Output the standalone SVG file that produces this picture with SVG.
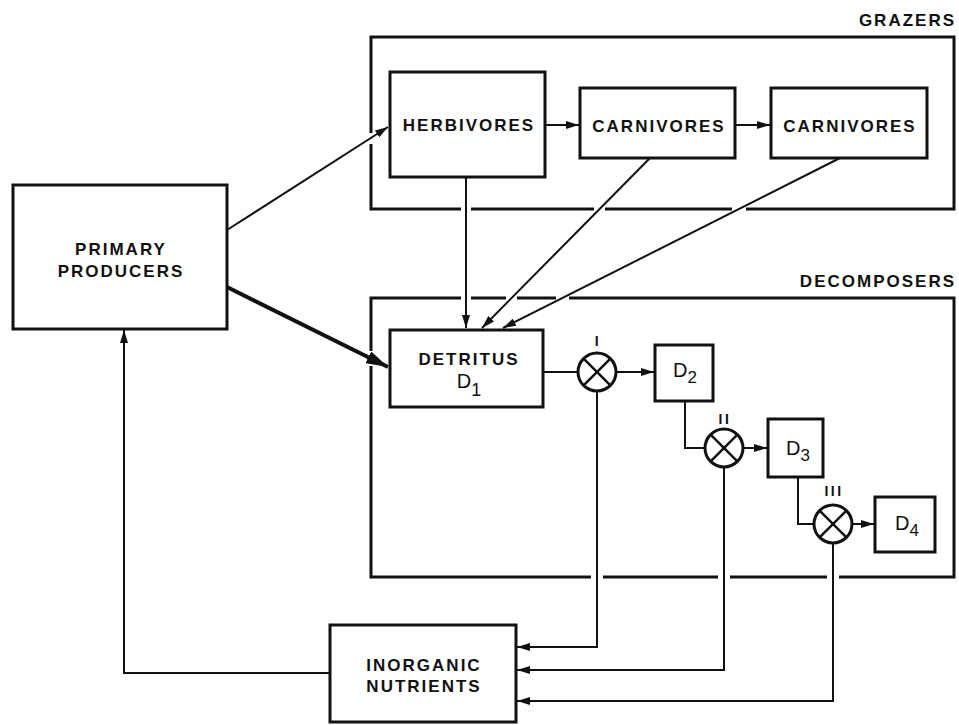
<svg xmlns="http://www.w3.org/2000/svg" width="959" height="725" viewBox="0 0 959 725">
<style>
.box{fill:none;stroke:#111;stroke-width:3}
.cont{fill:none;stroke:#111;stroke-width:3}
.lbl{font-family:"Liberation Sans",Arial,Helvetica,sans-serif;font-weight:bold;font-size:17px;letter-spacing:2px;fill:#111;text-anchor:middle}
.glbl{font-family:"Liberation Sans",Arial,Helvetica,sans-serif;font-weight:bold;font-size:17px;letter-spacing:2px;fill:#111;text-anchor:end}
.dl{font-family:"Liberation Sans",Arial,Helvetica,sans-serif;font-size:20px;fill:#111;text-anchor:middle}
.rn{font-family:"Liberation Sans",Arial,Helvetica,sans-serif;font-weight:bold;font-size:14px;letter-spacing:2.5px;fill:#111;text-anchor:middle}
.ln{fill:none;stroke:#111;stroke-width:2}
.thick{fill:none;stroke:#111;stroke-width:4}
.gap{fill:none;stroke:#fff;stroke-width:6}
.circ{fill:#fff;stroke:#111;stroke-width:3}
.x{stroke:#111;stroke-width:2.5}
</style>
<defs>
<marker id="arr" viewBox="0 0 13 8" refX="13" refY="4" markerWidth="13" markerHeight="8" markerUnits="userSpaceOnUse" orient="auto">
<path d="M0,0 L13,4 L0,8 z" fill="#111"/>
</marker>
<marker id="arrB" viewBox="0 0 22 13" refX="22" refY="6.5" markerWidth="22" markerHeight="13" markerUnits="userSpaceOnUse" orient="auto">
<path d="M0,0 L22,6.5 L0,13 z" fill="#111"/>
</marker>
</defs>
<rect width="959" height="725" fill="#fff"/>

<g id="grazers">
<rect class="cont" x="371" y="37" width="583" height="172"/>
<text class="glbl" x="956" y="26">GRAZERS</text>
</g>
<g id="decomposers">
<rect class="cont" x="371" y="298" width="583" height="279"/>
<text class="glbl" x="956" y="287">DECOMPOSERS</text>
</g>

<g id="connectors">
<g id="gaps">
<line class="gap" x1="371" y1="133" x2="371" y2="144"/>
<line class="gap" x1="371" y1="351" x2="371" y2="366"/>
<line class="gap" x1="461" y1="209" x2="471" y2="209"/>
<line class="gap" x1="461" y1="298" x2="471" y2="298"/>
<line class="gap" x1="594" y1="209" x2="605" y2="209"/>
<line class="gap" x1="506" y1="298" x2="517" y2="298"/>
<line class="gap" x1="732" y1="209" x2="746" y2="209"/>
<line class="gap" x1="556" y1="298" x2="569" y2="298"/>
<line class="gap" x1="591" y1="577" x2="603" y2="577"/>
<line class="gap" x1="718" y1="577" x2="730" y2="577"/>
<line class="gap" x1="827" y1="577" x2="839" y2="577"/>
</g>
<line class="ln" x1="227" y1="230" x2="388" y2="127" marker-end="url(#arr)"/>
<line class="thick" x1="227" y1="287" x2="388" y2="367" marker-end="url(#arrB)"/>
<line class="ln" x1="545" y1="125" x2="579" y2="125" marker-end="url(#arr)"/>
<line class="ln" x1="735" y1="125" x2="770" y2="125" marker-end="url(#arr)"/>
<line class="ln" x1="466" y1="177" x2="466" y2="328" marker-end="url(#arr)"/>
<line class="ln" x1="650" y1="158" x2="482" y2="328" marker-end="url(#arr)"/>
<line class="ln" x1="840" y1="158" x2="503" y2="328" marker-end="url(#arr)"/>
<line class="ln" x1="543" y1="372" x2="578" y2="372"/>
<line class="ln" x1="616" y1="372" x2="654" y2="372" marker-end="url(#arr)"/>
<polyline class="ln" points="685,401 685,448 705,448"/>
<line class="ln" x1="743" y1="448" x2="767" y2="448" marker-end="url(#arr)"/>
<polyline class="ln" points="798,477 798,524 814,524"/>
<line class="ln" x1="852" y1="524" x2="874" y2="524" marker-end="url(#arr)"/>
<polyline class="ln" points="597,391 597,647 517,647" marker-end="url(#arr)"/>
<polyline class="ln" points="724,467 724,670 517,670" marker-end="url(#arr)"/>
<polyline class="ln" points="833,543 833,701 517,701" marker-end="url(#arr)"/>
<polyline class="ln" points="330,673 124,673 124,330" marker-end="url(#arr)"/>
</g>

<g id="primary-producers">
<rect class="box" x="13" y="185" width="214" height="144"/>
<text class="lbl" x="121" y="255">PRIMARY</text>
<text class="lbl" x="121" y="277">PRODUCERS</text>
</g>
<g id="herbivores">
<rect class="box" x="390" y="72" width="155" height="105"/>
<text class="lbl" x="469" y="131">HERBIVORES</text>
</g>
<g id="carnivores-1">
<rect class="box" x="580" y="88" width="155" height="70"/>
<text class="lbl" x="659" y="132">CARNIVORES</text>
</g>
<g id="carnivores-2">
<rect class="box" x="771" y="88" width="156" height="70"/>
<text class="lbl" x="850" y="132">CARNIVORES</text>
</g>
<g id="detritus">
<rect class="box" x="390" y="330" width="153" height="77"/>
<text class="lbl" x="469" y="365">DETRITUS</text>
<text class="dl" x="469" y="388" font-size="18">D<tspan dy="8" font-size="18">1</tspan></text>
</g>
<g id="junction-1">
<circle class="circ" cx="597" cy="372" r="19"/>
<line class="x" x1="583.6" y1="358.6" x2="610.4" y2="385.4"/>
<line class="x" x1="610.4" y1="358.6" x2="583.6" y2="385.4"/>
<text class="rn" x="598" y="346">I</text>
</g>
<g id="d2">
<rect class="box" x="655" y="345" width="58" height="56"/>
<text class="dl" x="685" y="377">D<tspan dy="6" font-size="17">2</tspan></text>
</g>
<g id="junction-2">
<circle class="circ" cx="724" cy="448" r="19"/>
<line class="x" x1="710.6" y1="434.6" x2="737.4" y2="461.4"/>
<line class="x" x1="737.4" y1="434.6" x2="710.6" y2="461.4"/>
<text class="rn" x="725" y="424">II</text>
</g>
<g id="d3">
<rect class="box" x="768" y="419" width="55" height="58"/>
<text class="dl" x="798" y="455">D<tspan dy="6" font-size="17">3</tspan></text>
</g>
<g id="junction-3">
<circle class="circ" cx="833" cy="524" r="19"/>
<line class="x" x1="819.6" y1="510.6" x2="846.4" y2="537.4"/>
<line class="x" x1="846.4" y1="510.6" x2="819.6" y2="537.4"/>
<text class="rn" x="834" y="496">III</text>
</g>
<g id="d4">
<rect class="box" x="875" y="497" width="60" height="55"/>
<text class="dl" x="907" y="530">D<tspan dy="6" font-size="17">4</tspan></text>
</g>
<g id="inorganic-nutrients">
<rect class="box" x="330" y="625" width="186" height="97"/>
<text class="lbl" x="424" y="671">INORGANIC</text>
<text class="lbl" x="424" y="692">NUTRIENTS</text>
</g>
</svg>
